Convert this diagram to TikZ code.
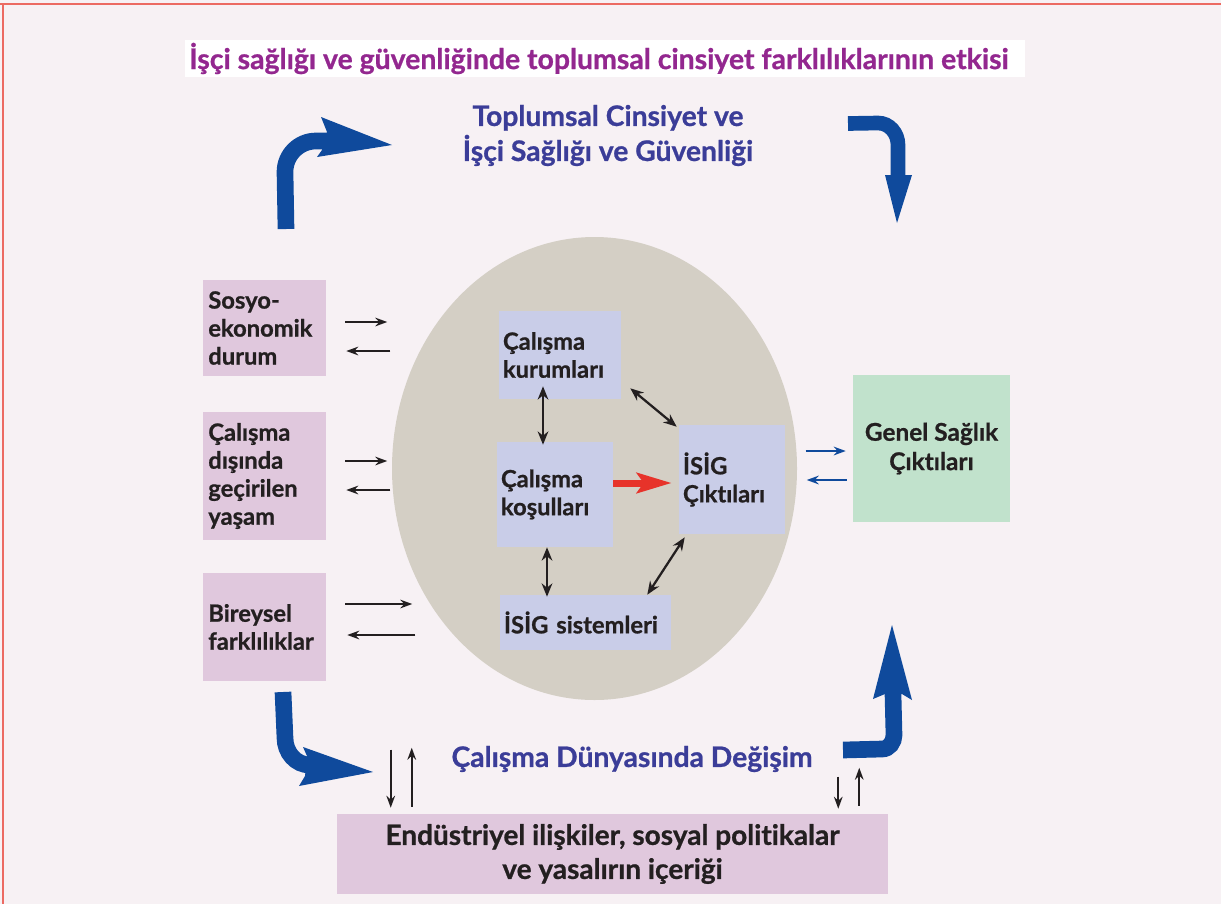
\documentclass[tikz,border=0pt]{standalone}
\usepackage{fontspec}
\setmainfont{Lato}[Ligatures=NoCommon, BoldFeatures={FakeBold=0.8}]
\usetikzlibrary{arrows.meta,calc,shapes.geometric}
\definecolor{bg}{HTML}{F7F1F4}
\definecolor{borderred}{HTML}{EC6A62}
\definecolor{titlec}{HTML}{93278F}
\definecolor{headc}{HTML}{3B3D98}
\definecolor{ink}{HTML}{231F20}
\definecolor{pinkbox}{HTML}{E0C8DD}
\definecolor{lav}{HTML}{C9CDE8}
\definecolor{greenbox}{HTML}{C1E2CC}
\definecolor{ellc}{HTML}{D4CFC5}
\definecolor{arrowblue}{HTML}{0F4A9C}
\definecolor{redarr}{HTML}{E7332A}
\begin{document}
\begin{tikzpicture}[x=0.75pt,y=-0.75pt,
  lbox/.style={fill=pinkbox, text=ink, align=left, inner xsep=4pt, inner ysep=0pt,
    font=\fontsize{17.8}{21}\selectfont\bfseries},
  ibox/.style={fill=lav, text=ink, align=left, inner xsep=3pt, inner ysep=0pt,
    font=\fontsize{17.8}{21}\selectfont\bfseries},
  sarr/.style={draw=ink, line width=1.4pt, -{Stealth[length=9pt,width=6.5pt]}},
  darr/.style={draw=ink, line width=1.7pt, {Stealth[length=10pt,width=8pt]}-{Stealth[length=10pt,width=8pt]}},
  barr/.style={draw=arrowblue, line width=1.6pt, -{Stealth[length=9pt,width=6.5pt]}},
  bigshaft/.style={draw=arrowblue, line width=12.5pt, line cap=butt},
  bighead/.style={fill=arrowblue},
]
\useasboundingbox (0,0) rectangle (1221,904);
\fill[bg] (0,0) rectangle (1221,904);
\draw[borderred, line width=1.5pt] (0,4) -- (1221,4);
\draw[borderred, line width=1.5pt] (3,4) -- (3,904);

% title
\node[fill=white, minimum width=630pt, minimum height=27.75pt, inner sep=0pt] (tbox) at (605,58.5) {};
\node[anchor=west, text=titlec, inner sep=0pt, font=\fontsize{21.3}{24}\selectfont\bfseries] (title) at (189,58.5)
  {İşçi sağlığı ve güvenliğinde toplumsal cinsiyet farklılıklarının etkisi};

% headings
\node[text=headc, align=center, inner sep=0pt, font=\fontsize{21.2}{26.25}\selectfont\bfseries] (head) at (608,135.5)
  {Toplumsal Cinsiyet ve\\İşçi Sağlığı ve Güvenliği};
\node[text=headc, inner sep=0pt, font=\fontsize{21.2}{24}\selectfont\bfseries] (cdd) at (632,759)
  {Çalışma Dünyasında Değişim};

% ellipse
\node[ellipse, fill=ellc, minimum width=303.75pt, minimum height=347.25pt, inner sep=0pt] (ell) at (594.5,468.5) {};

% left boxes
\node[lbox, text width=84.25pt, minimum height=72pt] (sos) at (264.5,328) {Sosyo-\\ekonomik\\durum};
\node[lbox, text width=84.25pt, minimum height=96pt] (cal) at (264.5,476) {Çalışma\\dışında\\geçirilen\\yaşam};
\node[lbox, text width=84.25pt, minimum height=81pt] (bir) at (264.5,627) {Bireysel\\farklılıklar};

% inner boxes
\node[ibox, text width=85.5pt, minimum height=66pt] (kur) at (560,355) {Çalışma\\kurumları};
\node[ibox, text width=81pt, minimum height=78.75pt] (kos) at (555,494.5) {Çalışma\\koşulları};
\node[ibox, text width=73.5pt, minimum height=81.75pt] (cik) at (732,479.5) {İSİG\\Çıktıları};
\node[ibox, text width=122.25pt, minimum height=41.25pt] (sis) at (585.5,622.5) {İSİG sistemleri};

% right box
\node[fill=greenbox, text=ink, align=center, minimum width=117.75pt, minimum height=110.25pt, inner sep=0pt,
  font=\fontsize{18.3}{22}\selectfont\bfseries] (gen) at (931.5,448.5) {Genel Sağlık\\Çıktıları};

% bottom box
\node[fill=pinkbox, text=ink, align=center, minimum width=413.25pt, minimum height=60pt, inner sep=0pt,
  font=\fontsize{21}{25.5}\selectfont\bfseries] (endu) at (612.5,854)
  {Endüstriyel ilişkiler, sosyal politikalar\\ve yasalırın içeriği};

% small arrows left
\draw[sarr] ($(sos.east)+(19,-6)$) -- ($(sos.east)+(61,-6)$);
\draw[sarr] ($(sos.east)+(64,23)$) -- ($(sos.east)+(20,23)$);
\draw[sarr] ($(cal.east)+(19,-15)$) -- ($(cal.east)+(61,-15)$);
\draw[sarr] ($(cal.east)+(64,14)$) -- ($(cal.east)+(20,14)$);
\draw[sarr] ($(bir.east)+(19,-23)$) -- ($(bir.east)+(86,-23)$);
\draw[sarr] ($(bir.east)+(89,8)$) -- ($(bir.east)+(21,8)$);

% blue small arrows
\draw[barr] ($(gen.west)+(-47,2.5)$) -- ($(gen.west)+(-7,2.5)$);
\draw[barr] ($(gen.west)+(-6,31.5)$) -- ($(gen.west)+(-46,31.5)$);

% vertical arrows at bottom box
\draw[sarr] ($(endu.north west)+(54,-64)$) -- ($(endu.north west)+(54,-6)$);
\draw[sarr] ($(endu.north west)+(75,-7)$) -- ($(endu.north west)+(75,-66)$);
\draw[sarr] ($(endu.north east)+(-50,-37)$) -- ($(endu.north east)+(-50,-5)$);
\draw[sarr] ($(endu.north east)+(-29,-8)$) -- ($(endu.north east)+(-29,-46)$);

% inner double arrows
\draw[darr] ($(kur.south)+(-17,-13)$) -- ($(kos.north)+(-12,3)$);
\draw[darr] ($(kos.south)+(-8,0)$) -- ($(sis.north)+(-38.5,2)$);
\draw[darr] ($(kur.south east)+(9,-11)$) -- ($(cik.north west)+(-2,2)$);
\draw[darr] ($(sis.north east)+(-24,0)$) -- ($(cik.south west)+(6,3)$);
\draw[draw=redarr, line width=5.25pt, -{Stealth[length=26pt,width=15pt,inset=5pt]}]
  ($(kos.east)+(0,-11.5)$) -- ($(cik.west)+(-7,3.5)$);

% big blue arrows
\draw[bigshaft] (286,229) -- (285,172) to[out=90,in=180] (316,141) -- (327,141);
\fill[bighead] (327,132) -- (321,117) -- (392,145) -- (317,157) -- (322,150) -- cycle;

\draw[bigshaft, line width=11pt] (848,123.5) -- (878,123) to[out=0,in=90] (898,145) -- (898,178);
\fill[bighead] (885,175) -- (912,175) -- (897,223) -- cycle;

\draw[bigshaft] (283,692) -- (285,738) to[out=-90,in=180] (310,765) -- (307,765);
\fill[bighead] (307,756) -- (303,747) -- (373,772) -- (299,786) -- (305,776) -- cycle;

\draw[bigshaft] (843,750) -- (882,749) to[out=0,in=-90] (894,735) -- (893,694);
\fill[bighead] (885,694) -- (873,699) -- (892,625) -- (912,700) -- (902,694) -- cycle;
\end{tikzpicture}
\end{document}
